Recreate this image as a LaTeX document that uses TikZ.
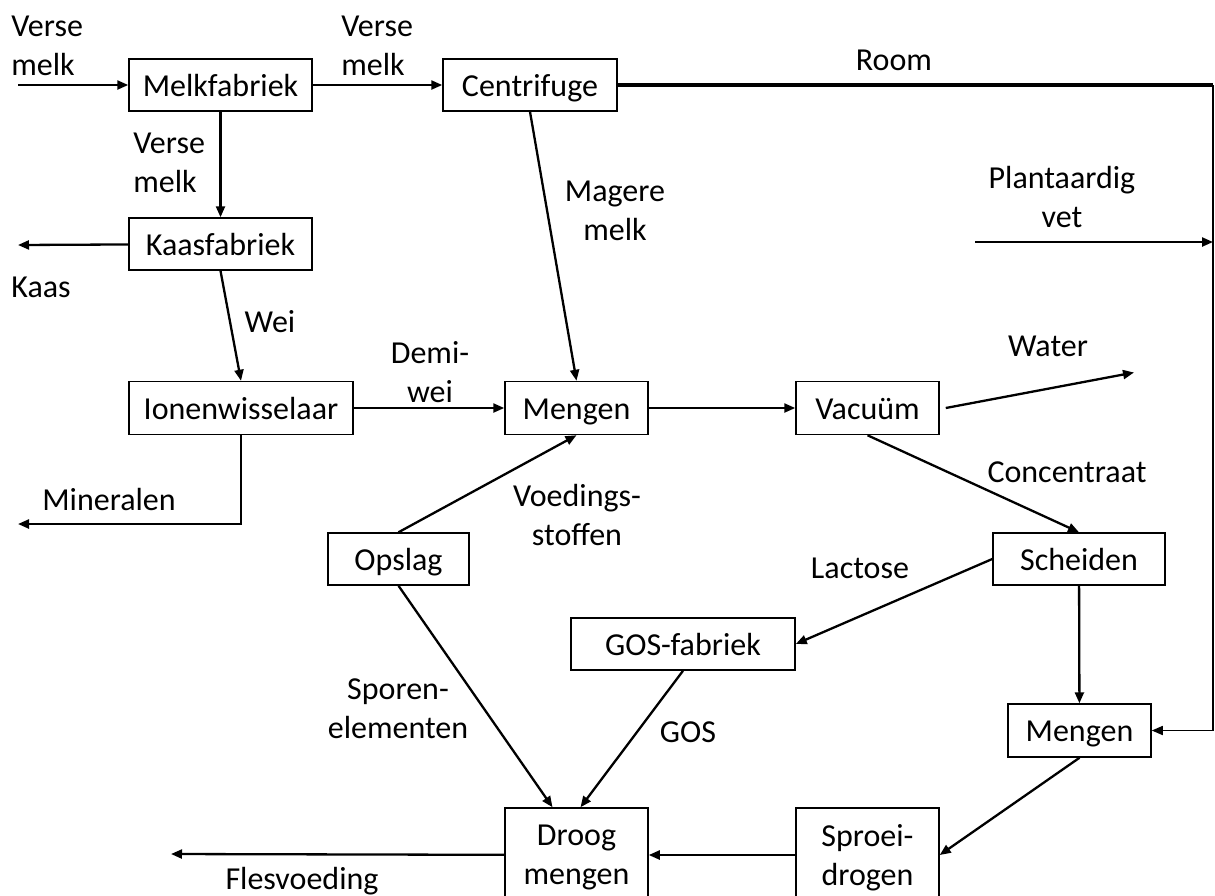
\documentclass[tikz,border=0pt]{standalone}
\usepackage{fontspec}
\setmainfont{Carlito}
\usetikzlibrary{arrows.meta}
\tikzset{
  box/.style={draw, line width=0.75pt, align=center, inner sep=2pt, minimum height=26pt, text height=12pt, text depth=1pt},
  tallbox/.style={draw, line width=0.75pt, align=center, inner sep=2pt, minimum height=47pt, text depth=0pt},
  line/.style={-{Triangle[length=5.5pt,width=4.5pt]}, line width=1.15pt},
  room/.style={line width=1.8pt},
  lbl/.style={align=center, inner sep=0pt}
}

\begin{document}
\begin{tikzpicture}[x=0.5pt, y=-0.5pt, font=\fontsize{16}{19.5}\selectfont]
  \useasboundingbox (0,0) rectangle (1215,895);

  % process boxes
  \node[box, minimum width=91.5pt] (melk) at (220.5,85) {Melkfabriek};
  \node[box, minimum width=87pt] (centri) at (530,85) {Centrifuge};
  \node[box, minimum width=91.5pt] (kaas) at (220.5,244) {Kaasfabriek};
  \node[box, minimum width=112pt, minimum height=26.5pt] (ion) at (241,408) {Ionenwisselaar};
  \node[box, minimum width=71.5pt, minimum height=26.5pt] (mengen) at (576.5,408) {Mengen};
  \node[box, minimum width=71.5pt, minimum height=26.5pt] (vac) at (867.5,408) {Vacuüm};
  \node[box, minimum width=70.5pt] (opslag) at (398.5,559) {Opslag};
  \node[box, minimum width=86pt] (scheid) at (1079,559) {Scheiden};
  \node[box, minimum width=112pt] (gos) at (683,644) {GOS-fabriek};
  \node[box, minimum width=71.5pt, minimum height=26.5pt] (meng2) at (1079.5,730.5) {Mengen};
  \node[tallbox, minimum width=71.5pt] (droog) at (576.5,855) {Droog\\mengen};
  \node[tallbox, minimum width=71.5pt] (sproei) at (867.5,855) {Sproei-\\drogen};

  % labels
  \node[lbl, align=left, anchor=west] (lin) at (11,45.5) {Verse\\melk};
  \node[lbl, align=left, anchor=west] (lcen) at (341,45.5) {Verse\\melk};
  \node[lbl, align=left, anchor=west] (lkaf) at (133,162.5) {Verse\\melk};
  \node[lbl, anchor=west] (lkaas) at (11,287) {Kaas};
  \node[lbl] (lwei) at (270,322) {Wei};
  \node[lbl] (lmin) at (109,499) {Mineralen};
  \node[lbl] (ldemi) at (430,372) {Demi-\\wei};
  \node[lbl] (lmag) at (615,211) {Magere\\melk};
  \node[lbl] (lroom) at (894,60) {Room};
  \node[lbl] (lvet) at (1062,196.5) {Plantaardig\\vet};
  \node[lbl] (lwater) at (1048,346) {Water};
  \node[lbl] (lconc) at (1067,472) {Concentraat};
  \node[lbl] (lvoed) at (577,515) {Voedings-\\stoffen};
  \node[lbl] (llac) at (860,568) {Lactose};
  \node[lbl] (lspo) at (398,709) {Sporen-\\elementen};
  \node[lbl] (lgos) at (688,732) {GOS};
  \node[lbl] (lfles) at (302,881) {Flesvoeding};

  % free ends
  \coordinate (inp) at (18,85);
  \coordinate (kaasout) at (18,245);
  \coordinate (minout) at (18,524);
  \coordinate (flesout) at (171,854);
  \coordinate (waterout) at (1134,372.5);
  \coordinate (roomc) at (1213,85);
  \coordinate (vetin) at (975,242);
  \coordinate (vetout) at (1213,242);

  % flows
  \draw[line] (inp) -- (melk);
  \draw[line] (melk) -- (centri);
  \draw[line] (melk) -- (kaas);
  \draw[line] (kaas) -- (kaasout);
  \draw[line] (kaas.south) -- (ion.north);
  \draw[line] (ion.south) |- (minout);
  \draw[line] (ion) -- (mengen);
  \draw[line] (centri.south) -- (mengen.north);
  \draw[line] (opslag.north) -- (mengen.south);
  \draw[line] (mengen) -- (vac);
  \draw[line] ([xshift=3pt]vac.east) -- (waterout);
  \draw[line] (vac.south) -- (scheid.north);
  \draw[line] (scheid.west) -- (gos.east);
  \draw[line] (scheid) -- (meng2);
  \draw[line] (meng2.south) -- (sproei.east);
  \draw[line] (sproei) -- (droog);
  \draw[line] (droog) -- (flesout);
  \draw[line] (opslag.south) -- ([xshift=-12pt]droog.north);
  \draw[line] (gos.south) -- ([xshift=2pt]droog.north);
  \draw[room] (centri.east) -- (roomc);
  \draw[line, line width=0.8pt] (roomc) |- (meng2.east);
  \draw[line] (vetin) -- (vetout);
\end{tikzpicture}
\end{document}
